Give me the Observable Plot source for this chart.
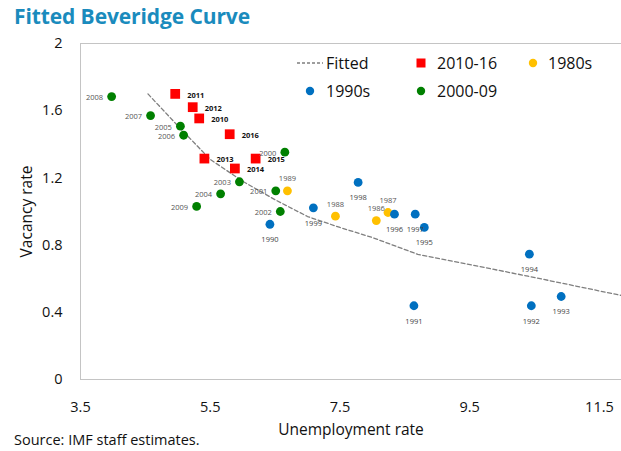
<!DOCTYPE html>
<html><head><meta charset="utf-8">
<script src="https://cdn.jsdelivr.net/npm/d3@7"></script>
<script src="https://cdn.jsdelivr.net/npm/@observablehq/plot@0.6"></script>
<style>
body{margin:0;background:#fff;}
#wrap{position:relative;width:621px;height:451px;overflow:hidden;font-family:"Open Sans",sans-serif;}
#title{height:32px;line-height:32px;padding-left:14px;font-family:"Open Sans",sans-serif;font-weight:bold;font-size:21px;color:#1a8bbd;letter-spacing:-0.1px;}
#chart svg{display:block;}
#caption{position:absolute;left:14px;top:431px;font-size:14.5px;line-height:18px;color:#111;}
.leg{position:absolute;display:flex;align-items:center;height:20px;font-size:16px;line-height:20px;color:#111;white-space:nowrap;}
.leg svg{display:block;flex:none;}
</style></head>
<body><div id="wrap"><div id="title">Fitted Beveridge Curve</div><div id="chart"></div><div id="legend"></div><div id="caption">Source: IMF staff estimates.</div></div>
<script>
// ---- data ----
const xTicks = [3.5, 5.5, 7.5, 9.5, 11.5];
const yTicks = [0, 0.4, 0.8, 1.2, 1.6, 2];

const fittedUnemp = [4.54, 5.0, 5.5, 6.0, 6.5, 7.0, 7.5, 8.0, 8.7, 10.4, 11.84];
const fittedVac   = [1.70, 1.51, 1.31, 1.18, 1.07, 0.97, 0.905, 0.845, 0.745, 0.615, 0.50];

const years2010s = ["2010","2011","2012","2013","2014","2015","2016"];
const unemp2010s = [5.33, 4.96, 5.23, 5.41, 5.88, 6.20, 5.80];
const vac2010s   = [1.554, 1.70, 1.621, 1.315, 1.256, 1.315, 1.46];

const years1980s = ["1986","1987","1988","1989"];
const unemp1980s = [8.06, 8.24, 7.43, 6.69];
const vac1980s   = [0.946, 0.994, 0.972, 1.123];

const years1990s = ["1990","1991","1992","1993","1994","1995","1996","1997","1998","1999"];
const unemp1990s = [6.42, 8.64, 10.45, 10.91, 10.42, 8.80, 8.34, 8.66, 7.78, 7.09];
const vac1990s   = [0.924, 0.439, 0.439, 0.494, 0.746, 0.905, 0.984, 0.984, 1.173, 1.022];

const years2000s = ["2000","2001","2002","2003","2004","2005","2006","2007","2008","2009"];
const unemp2000s = [6.65, 6.51, 6.58, 5.95, 5.66, 5.04, 5.09, 4.58, 3.98, 5.29];
const vac2000s   = [1.353, 1.123, 1.00, 1.177, 1.105, 1.508, 1.454, 1.571, 1.684, 1.030];

const seriesNames = ["Fitted", "2010-16", "1980s", "1990s", "2000-09"];
const seriesColors = ["#7f7f7f", "#ff0000", "#ffc000", "#0070c0", "#008000"];

// ---- build tables ----
const rows = (years, xs, ys) => years.map((yr, i) => ({year: yr, u: xs[i], v: ys[i]}));
const fitted = fittedUnemp.map((u, i) => ({u, v: fittedVac[i]}));
const d2010 = rows(years2010s, unemp2010s, vac2010s);
const d1980 = rows(years1980s, unemp1980s, vac1980s);
const d1990 = rows(years1990s, unemp1990s, vac1990s);
const d2000 = rows(years2000s, unemp2000s, vac2000s);

const chart = Plot.plot({
  width: 621, height: 410,
  marginTop: 11, marginBottom: 63, marginLeft: 80, marginRight: 0,
  style: {fontFamily: "Open Sans, sans-serif", background: "transparent", color: "#111", overflow: "visible"},
  x: {domain: [3.5, 11.84]},
  y: {domain: [0, 2]},
  marks: [
    Plot.frame({stroke: "#c4c4c4"}),
    Plot.axisX({ticks: xTicks, tickSize: 0, tickPadding: 22, fontSize: 14.5, tickFormat: d => d.toFixed(1), label: null}),
    Plot.axisX({ticks: [], tickSize: 0, fontSize: 15.5, label: "Unemployment rate", labelAnchor: "center", labelOffset: 55, labelArrow: "none"}),
    Plot.axisY({ticks: yTicks, tickSize: 0, tickPadding: 18, fontSize: 14.5, tickFormat: d => String(d), label: null}),
    Plot.axisY({ticks: [], tickSize: 0, fontSize: 15.5, label: "Vacancy rate", labelAnchor: "center", labelOffset: 60, labelArrow: "none"}),
    Plot.line(fitted, {x: "u", y: "v", stroke: seriesColors[0], strokeWidth: 1.3, strokeDasharray: "4,2.5"}),
    Plot.dot(d2010, {x: "u", y: "v", symbol: "square", r: 5.5, fill: seriesColors[1]}),
    Plot.dot(d1980, {x: "u", y: "v", r: 4.4, fill: seriesColors[2]}),
    Plot.dot(d1990, {x: "u", y: "v", r: 4.4, fill: seriesColors[3]}),
    Plot.dot(d2000, {x: "u", y: "v", r: 4.4, fill: seriesColors[4]}),
    Plot.text(d2010, {x: "u", y: "v", text: "year", textAnchor: "start", dx: 12, dy: 1.5, fontSize: 7.5, fontWeight: "bold", fill: "#111"}),
    Plot.text(d1980, {x: "u", y: "v", text: "year", dy: -12, fontSize: 7.5, fill: "#555"}),
    Plot.text(d1990, {x: "u", y: "v", text: "year", dy: 15.5, fontSize: 7.5, fill: "#444"}),
    Plot.text(d2000, {x: "u", y: "v", text: "year", textAnchor: "end", dx: -8.5, dy: 1, fontSize: 7.5, fill: "#555"})
  ]
});
document.getElementById("chart").appendChild(chart);

// ---- legend (HTML overlay in the plot area) ----
const legendSlots = [
  {left: 297, top: 53, w: 29},
  {left: 416, top: 53, w: 21},
  {left: 528, top: 53, w: 20},
  {left: 305, top: 81, w: 21},
  {left: 416, top: 81, w: 21}
];
const legend = document.getElementById("legend");
seriesNames.forEach((name, i) => {
  const s = legendSlots[i];
  const item = document.createElement("div");
  item.className = "leg";
  item.style.left = s.left + "px";
  item.style.top = s.top + "px";
  let sw;
  if (i === 0) sw = `<line x1="0" x2="26" y1="6" y2="6" stroke="${seriesColors[0]}" stroke-width="1.3" stroke-dasharray="3,2"/>`;
  else if (i === 1) sw = `<rect x="0.5" y="1.5" width="9" height="9" fill="${seriesColors[1]}"/>`;
  else sw = `<circle cx="5" cy="6" r="4.2" fill="${seriesColors[i]}"/>`;
  item.innerHTML = `<svg width="${s.w}" height="12">${sw}</svg><span>${name}</span>`;
  legend.appendChild(item);
});
</script>
</body></html>
